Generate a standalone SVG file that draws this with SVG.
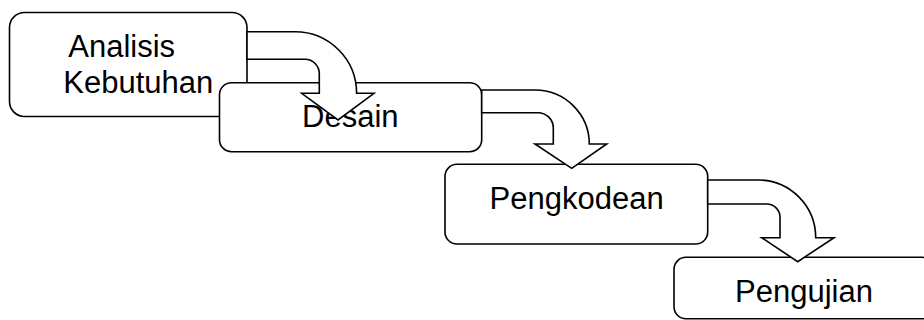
<svg xmlns="http://www.w3.org/2000/svg" width="924" height="320" viewBox="0 0 924 320">
<style>
.box{fill:#fff;stroke:#000;stroke-width:1.6}
.arr{fill:#fff;stroke:#000;stroke-width:1.6;stroke-linejoin:miter}
text{font-family:"Liberation Sans",Arial,sans-serif;font-size:31px;fill:#000}
</style>
<rect width="924" height="320" fill="#fff"/>
<g id="node-analisis">
<rect class="box" x="9.5" y="12.5" width="237.5" height="104" rx="15" ry="15"/>
<text x="68.3" y="56.7">Analisis</text>
<text x="63.3" y="93.3">Kebutuhan</text>
</g>
<g id="node-desain">
<rect class="box" x="219.5" y="82.7" width="262.2" height="69" rx="12" ry="12"/>
<text x="350.3" y="126.7" text-anchor="middle">Desain</text>
</g>
<g id="connectors-1">
<path class="arr" d="M247,31.7 H295 A61.6,61.6 0 0 1 356.6,93.3 H374 L338,120 L301.7,93.3 H319.3 V73.6 A14.3,14.3 0 0 0 305,59.3 H247 Z"/>
</g>
<g id="node-pengkodean">
<rect class="box" x="445" y="164.3" width="262.7" height="79.7" rx="12" ry="12"/>
<text x="576.6" y="209.3" text-anchor="middle">Pengkodean</text>
</g>
<g id="connectors-2">
<path class="arr" d="M481.7,90 H535 A54.3,54 0 0 1 589.3,144 H606.7 L571.7,168.3 L535,144 H553.3 V128 A15.3,15.3 0 0 0 538,112.7 H481.7 Z"/>
</g>
<g id="node-pengujian">
<rect class="box" x="674" y="257.3" width="260" height="61.5" rx="12" ry="12"/>
<text x="804" y="301.7" text-anchor="middle">Pengujian</text>
</g>
<g id="connectors-3">
<path class="arr" d="M707.7,180 H758 A57.7,57.7 0 0 1 815.7,237.7 H834 L797.7,261.7 L761.7,237.7 H780 V217.3 A13.3,13.3 0 0 0 766.7,204 H707.7 Z"/>
</g>
</svg>
